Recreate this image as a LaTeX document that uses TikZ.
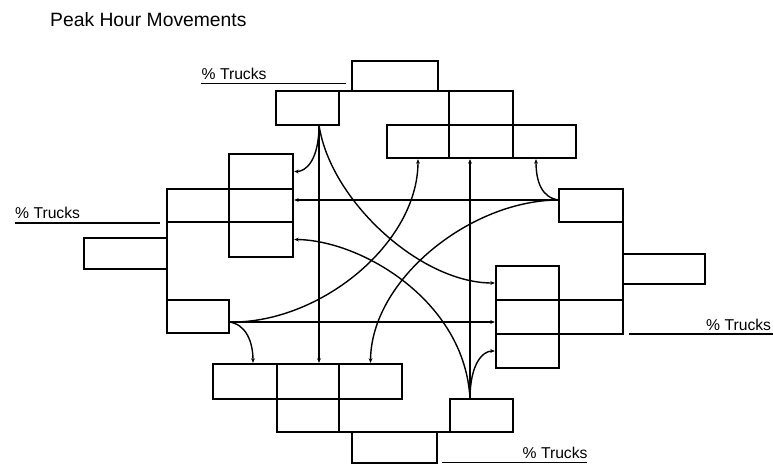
\documentclass[tikz,border=0pt]{standalone}
\usepackage{fontspec}
\setmainfont{Liberation Sans}
\usetikzlibrary{arrows.meta,calc}
\tikzset{
  bx/.style={draw,line width=2.8pt,rectangle,inner sep=0pt,outer sep=0pt},
  conn/.style={line width=1.4pt,-{Stealth[length=4.5pt,width=3.8pt]},shorten >=1.2pt},
  frame/.style={line width=2.8pt},
  uline/.style={line width=1.4pt},
  lbl/.style={anchor=base west,inner sep=0pt,font=\fontsize{15.7}{18}\selectfont},
  ttl/.style={anchor=base west,inner sep=0pt,font=\fontsize{19.3}{22}\selectfont}
}
\newcommand\boxat[5]{\node[bx,minimum width={(#4)-(#2)},minimum height={(#5)-(#3)}] (#1) at ({((#2)+(#4))/2},{((#3)+(#5))/2}) {};}
\begin{document}
\begin{tikzpicture}[x=1pt,y=-1pt]
\useasboundingbox (0,0) rectangle (773,464);
% title
\node[ttl] (title) at (50,26) {Peak Hour Movements};
% top group
\boxat{t0}{352}{61}{438}{91}
\boxat{ta}{276}{91}{339}{125}
\boxat{tb}{449}{91}{513}{125}
\boxat{tr1}{387}{125}{449}{158}
\boxat{tr2}{449}{125}{513}{158}
\boxat{tr3}{513}{125}{576}{158}
\draw[frame] (ta.north west) -- (tb.north east);
% left group
\boxat{l0}{84}{238}{167}{269}
\boxat{la}{167}{189}{229}{222}
\boxat{lc1}{229}{154}{293}{189}
\boxat{lc2}{229}{189}{293}{222}
\boxat{lc3}{229}{222}{293}{257}
\boxat{lb}{167}{300}{229}{333}
\draw[frame] (la.north west) -- (lb.south west);
% right group
\boxat{rb}{559}{189}{623}{222}
\boxat{r0}{623}{254}{705}{284}
\boxat{ra}{559}{300}{623}{334}
\boxat{rc1}{496}{266}{559}{300}
\boxat{rc2}{496}{300}{559}{334}
\boxat{rc3}{496}{334}{559}{368}
\draw[frame] (rb.north east) -- (ra.south east);
% bottom group
\boxat{br1}{213}{364}{277}{399}
\boxat{br2}{277}{364}{339}{399}
\boxat{br3}{339}{364}{402}{399}
\boxat{ba}{277}{399}{339}{432}
\boxat{bb}{450}{399}{513}{432}
\boxat{b0}{352}{432}{437}{463}
\draw[frame] (ba.south west) -- (bb.south east);
% labels
\node[lbl] (ltop) at (201.5,79) {\% Trucks};
\coordinate (ut1) at (201,83.3); \coordinate (ut2) at (346,83.3);
\draw[uline] (ut1) -- (ut2);
\node[lbl] (lleft) at (15,218.3) {\% Trucks};
\coordinate (ul1) at (15,223); \coordinate (ul2) at (160,223);
\draw[uline] (ul1) -- (ul2);
\node[lbl] (lright) at (706,330.5) {\% Trucks};
\coordinate (ur1) at (629,334); \coordinate (ur2) at (773,334);
\draw[uline] (ur1) -- (ur2);
\node[lbl] (lbot) at (522.5,458.3) {\% Trucks};
\coordinate (ub1) at (442,462.7); \coordinate (ub2) at (587,462.7);
\draw[uline] (ub1) -- (ub2);
% sources
\coordinate (sT) at (319,125);
\coordinate (sR) at (559,200);
\coordinate (sB) at (470,399);
\coordinate (sL) at (229,322);
% connectors from top
\draw[conn] (sT) .. controls (319,160) and (306,171.5) .. (lc1.east);
\draw[conn] (sT) -- (sT |- br2.north);
\draw[conn] (sT) .. controls (330,200) and (420,283) .. (rc1.west);
% connectors from right
\draw[conn] (sR) .. controls (542,198) and (536,182) .. ($(tr3.south west)!0.365!(tr3.south east)$);
\draw[conn] (sR) -- (sR -| lc2.east);
\draw[conn] (sR) .. controls (470,200) and (371,280) .. (br3.north);
% connectors from bottom
\draw[conn] (sB) .. controls (470,365) and (482,351) .. (rc3.west);
\draw[conn] (sB) -- (sB |- tr2.south);
\draw[conn] (sB) .. controls (465,300) and (360,240) .. (lc3.east);
% connectors from left
\draw[conn] (sL) .. controls (246,324) and (253,342) .. ($(br1.north west)!0.625!(br1.north east)$);
\draw[conn] (sL) -- (sL -| rc2.west);
\draw[conn] (sL) .. controls (319,324) and (418,244) .. (tr1.south);
\end{tikzpicture}
\end{document}
